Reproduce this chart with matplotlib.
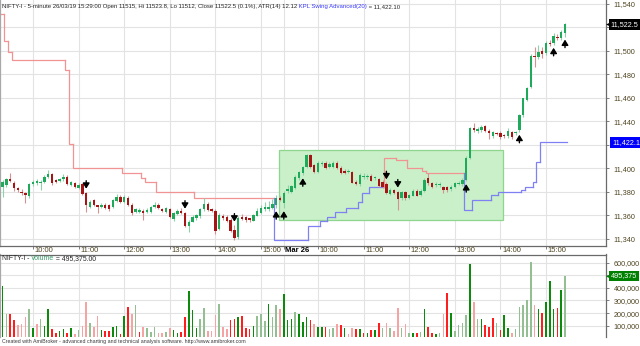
import matplotlib
matplotlib.use('Agg')
import numpy as np
import matplotlib.pyplot as plt
import matplotlib.transforms as mtransforms
from matplotlib import font_manager
from matplotlib.patches import Rectangle

# ---------------- data ----------------
symbol = 'NIFTY-I'
interval = '5-minute'
last_stamp = '26/03/19 15:29:00'
atr_value = 12.12
indicator_name = 'KPL Swing Advanced(20)'
days = ['Mar 25', 'Mar 26']
bars_per_day = 75
session_start = (9, 15)

opens = [11390, 11384.3, 11385.7, 11390.5, 11387.7, 11382.9, 11380, 11378.6, 11376.3, 11386.3,
 11387.1, 11387.1, 11388.5, 11392.8, 11394.8, 11390, 11389.1, 11390.5, 11392.8, 11385.7,
 11387.1, 11382.9, 11386.3, 11379.2, 11367.3, 11373, 11368.7, 11367.3, 11368.7, 11368.7,
 11367.3, 11372.4, 11375.8, 11371, 11374.9, 11368.7, 11363, 11363, 11363.6, 11363,
 11363, 11366.7, 11368.7, 11365, 11363, 11365, 11356.5, 11361, 11363.6, 11362.2,
 11350.8, 11354.5, 11357.3, 11359.3, 11365, 11369.3, 11365.3, 11363.9, 11348, 11359.3,
 11358.8, 11355.9, 11347.4, 11341.2, 11358.8, 11358.2, 11357.3, 11355.4, 11359.6, 11361.6,
 11365, 11365, 11365.9, 11368.7, 11374.4, 11370.1, 11380.6, 11380, 11382.9, 11391.4,
 11395.7, 11401.3, 11411.3, 11402.7, 11397.1, 11403.3, 11404.7, 11401.3, 11401.3, 11404.7,
 11400.5, 11397.6, 11396.5, 11397.1, 11388.6, 11386.3, 11392.5, 11392.2, 11393.4, 11391.4,
 11390.8, 11388.6, 11386.6, 11378, 11381.5, 11379.5, 11374.4, 11379.5, 11375, 11376.6,
 11380.6, 11377.2, 11380.6, 11391.4, 11387.1, 11385.4, 11385.6, 11384.2, 11384.2, 11382,
 11384.2, 11386.5, 11386.5, 11389.9, 11408.4, 11433.9, 11431.9, 11432.5, 11435.9, 11431.9,
 11427.4, 11430.2, 11430.2, 11428.2, 11427.4, 11431, 11429.6, 11432.5, 11445.2, 11458,
 11468.8, 11495.5, 11494.9, 11500, 11497.7, 11506.8, 11506.2, 11511.9, 11510.5, 11515]

highs = [11392, 11390, 11392, 11395.6, 11389, 11384, 11382, 11380, 11387, 11390,
 11391, 11390, 11394, 11398.5, 11396, 11391, 11392, 11394.8, 11394, 11389,
 11388, 11387, 11387, 11380, 11373, 11374, 11369, 11370, 11370, 11369.5,
 11374, 11378, 11377, 11377, 11376, 11370, 11366, 11366, 11365, 11366,
 11368, 11371.5, 11370, 11366, 11367, 11366, 11363, 11365, 11366, 11363,
 11356, 11360, 11361, 11366, 11374.4, 11371, 11366, 11365, 11362, 11361,
 11360, 11358, 11352, 11359, 11361, 11359, 11358, 11361, 11366, 11369,
 11371, 11372, 11374, 11377, 11376, 11381, 11386, 11386, 11394, 11398,
 11402, 11412, 11412, 11404, 11406, 11406, 11406, 11405, 11406, 11406,
 11402, 11399, 11399, 11398, 11390, 11396, 11396, 11395, 11395, 11393,
 11392, 11390, 11388, 11383, 11382, 11381, 11381, 11381, 11378, 11382,
 11382, 11382, 11392, 11396, 11388, 11388, 11388, 11385, 11385, 11386,
 11388, 11389, 11392, 11410, 11435, 11438.1, 11435, 11437, 11437, 11433,
 11432, 11431, 11432, 11429, 11434, 11432, 11432, 11446, 11460, 11469,
 11497, 11503, 11505, 11503, 11508, 11509, 11515, 11514, 11517.6, 11523.8]

lows = [11384, 11375.8, 11384, 11388, 11381, 11380, 11377, 11370.5, 11375, 11385,
 11386, 11381.5, 11387, 11392, 11386, 11387, 11388, 11389, 11386, 11385,
 11383, 11382, 11377, 11363, 11366, 11368, 11361.6, 11366, 11365, 11364,
 11366, 11371, 11370, 11370, 11368, 11360, 11362, 11362, 11355.9, 11362,
 11362, 11366, 11365, 11363, 11362, 11358, 11355, 11360, 11361, 11350,
 11346, 11354, 11356, 11358, 11364, 11364, 11363, 11344, 11347, 11356,
 11354, 11346, 11338.5, 11340, 11356, 11354, 11354, 11355, 11359, 11361,
 11364, 11364, 11365, 11366, 11372, 11366, 11379, 11379, 11382, 11390,
 11394, 11400, 11400, 11396, 11396, 11402, 11399, 11400, 11400, 11399,
 11395, 11395, 11396, 11387, 11386, 11385, 11391, 11391, 11389, 11390,
 11384, 11383, 11378, 11377, 11378, 11364.4, 11373, 11373, 11374, 11376,
 11376, 11376, 11380, 11386, 11383, 11384, 11384, 11379, 11380, 11381,
 11383, 11386, 11385, 11389, 11408, 11431, 11430, 11431, 11431, 11424.5,
 11426, 11428, 11425, 11426, 11426, 11425, 11428, 11431, 11444, 11457,
 11468, 11485.8, 11493, 11494, 11496, 11504, 11505, 11509, 11509, 11512]

closes = [11387, 11388.5, 11390.8, 11389.4, 11382.9, 11381.5, 11378.6, 11377.2, 11386.3, 11388.5,
 11389.4, 11388.5, 11392.8, 11394.8, 11387.1, 11388, 11390.8, 11392.2, 11386.6, 11388,
 11383.7, 11385.7, 11377.8, 11368.7, 11371.5, 11368.7, 11367.3, 11368.7, 11366.4, 11365,
 11373, 11375.8, 11371, 11375.8, 11368.7, 11362.2, 11365, 11364.4, 11362.2, 11364.4,
 11366.7, 11368.7, 11365.9, 11363.6, 11365.9, 11358.8, 11361.6, 11363.6, 11362.2, 11350.8,
 11354.5, 11358.8, 11360.2, 11365, 11369.3, 11364.4, 11363.6, 11346.6, 11360.2, 11357.3,
 11355.4, 11346.8, 11340.3, 11357.3, 11356.8, 11355.9, 11355.9, 11360.2, 11363.9, 11365.9,
 11366.7, 11367.3, 11369.3, 11374.9, 11373, 11378.6, 11382, 11384.9, 11392.8, 11397.1,
 11401.3, 11411.3, 11401.3, 11397.1, 11404.7, 11404.7, 11400.5, 11403.3, 11404.7, 11399.9,
 11395.7, 11395.7, 11397.6, 11387.7, 11386.9, 11394.2, 11393.4, 11393.4, 11389.4, 11392.2,
 11385.2, 11384.3, 11378.6, 11381.5, 11379.2, 11373.8, 11380, 11374.4, 11377.2, 11380.6,
 11376.6, 11380.6, 11390, 11387.1, 11384.3, 11386.5, 11386.5, 11381.4, 11381.4, 11384.2,
 11387.1, 11387.6, 11389.9, 11408.4, 11433.9, 11432.5, 11433, 11435.3, 11431.9, 11430.2,
 11431, 11428.8, 11426.8, 11427.4, 11431.9, 11426.8, 11431, 11445.2, 11459.4, 11467.9,
 11495.5, 11494.3, 11499.1, 11497.2, 11506.2, 11505.4, 11512.5, 11510.5, 11516.2, 11522.5]

volumes = [300000, 417000, 193000, 193000, 145000, 106000, 114000, 172000, 233000, 79000,
 114000, 153000, 100000, 230000, 71000, 45000, 58000, 71000, 40000, 79000,
 34000, 66000, 97000, 291000, 119000, 92000, 177000, 66000, 60000, 60000,
 87000, 97000, 34000, 177000, 251000, 193000, 262000, 48000, 87000, 79000,
 53000, 87000, 45000, 45000, 48000, 85000, 66000, 40000, 53000, 167000,
 375000, 225000, 79000, 153000, 238000, 60000, 60000, 185000, 272000, 87000,
 74000, 145000, 153000, 167000, 175000, 79000, 71000, 97000, 177000, 193000,
 140000, 272000, 172000, 264000, 233000, 351000, 145000, 150000, 209000, 196000,
 132000, 172000, 145000, 111000, 92000, 87000, 87000, 71000, 79000, 114000,
 106000, 79000, 34000, 79000, 71000, 71000, 40000, 45000, 66000, 66000,
 119000, 79000, 119000, 79000, 60000, 241000, 79000, 114000, 45000, 45000,
 40000, 50000, 233000, 87000, 45000, 34000, 45000, 196000, 359000, 201000,
 60000, 106000, 119000, 185000, 590000, 291000, 153000, 153000, 106000, 87000,
 159000, 124000, 66000, 185000, 79000, 45000, 71000, 251000, 264000, 301000,
 603000, 262000, 233000, 204000, 291000, 457000, 233000, 243000, 383000, 495375]

# volume shade per bar: G dark green, g light green, R red, r light red
vol_shade = ("RGgRRrrrgG" "rgGGRRGGRG" "rgrrgrrGRR" "GGRGRrgRrg" "ggrrgrGGRR"
             "GGGggrrrgr" "rRRGRRRGgg" "gGggrGGGgG" "GGRrGGRggr" "RGrrRGRGRG"
             "RgrgrrgrgG" "RgGRRGgrRG" "ggggGrgGRR" "RgRGGrgggg" "grGRGGGRGg")

# swing stop line: bar where each level starts, level, side (R resistance / B support)
stop_start = [0, 2, 3, 4, 18, 19, 20, 33, 38, 39, 42, 52,
              73, 82, 85, 87, 89, 92, 95, 96, 98,
              102, 105, 108, 112, 113,
              123, 125, 130, 132, 138, 139, 141, 142, 143]
stop_value = [11531, 11508, 11499, 11492, 11484, 11421, 11400, 11396, 11392, 11388, 11380, 11374.4,
              11339, 11350.8, 11355, 11358.7, 11362.9, 11365.8, 11371.5, 11378.6, 11384.3,
              11408.4, 11407.4, 11400.6, 11397.9, 11395.7,
              11364.4, 11373, 11377.2, 11380, 11381.4, 11384.3, 11388.5, 11405, 11422.1]
stop_side = "RRRRRRRRRRRR" "BBBBBBBBB" "RRRRR" "BBBBBBBBB"

arrow_bars = [23, 49, 62, 73, 75, 80, 102, 105, 123, 137, 146, 149]
arrow_dirs = "DDDUUUDDUUUU"

zone_bars = (73.8, 132.8)
zone_prices = (11355.9, 11415.5)

price_ticks = list(range(11340, 11541, 20))
vol_ticks = list(range(100000, 600001, 100000))

# ---------------- style ----------------
names = {f.name for f in font_manager.fontManager.ttflist}
BASE = 'Liberation Sans' if 'Liberation Sans' in names else 'DejaVu Sans'
NARROW = 'Liberation Sans Narrow' if 'Liberation Sans Narrow' in names else BASE
plt.rcParams['font.family'] = BASE

AXTXT = '#4f4420'
GRID = '#e3e3e3'
AXLINE = '#6a6a6a'
LAB = 5.2

W, H = 640, 346
fig = plt.figure(figsize=(W / 100, H / 100), dpi=100)
fig.patch.set_facecolor('white')
PLOT_R = 606
MAIN_B = 246
VOL_T, VOL_B = 254.5, 337

ax = fig.add_axes([0, 1 - MAIN_B / H, PLOT_R / W, MAIN_B / H])
axv = fig.add_axes([0, 1 - VOL_B / H, PLOT_R / W, (VOL_B - VOL_T) / H])

n = len(closes)
idx = np.arange(n)
o = np.array(opens); c = np.array(closes); h = np.array(highs); l = np.array(lows)

XL = (0.316, 159.79)
ax.set_xlim(*XL)
ax.set_ylim(11333.8, 11543.15)
axv.set_xlim(*XL)
axv.set_ylim(10300, 665000)

# time ticks
tick_pos, tick_lab, tick_bold = [], [], []
for k in range(n):
    d, j = divmod(k, bars_per_day)
    mins = session_start[0] * 60 + session_start[1] + 5 * j
    if j == 0 and d > 0:
        tick_pos.append(k); tick_lab.append(days[d]); tick_bold.append(True)
    elif mins % 60 == 0:
        tick_pos.append(k); tick_lab.append('%d:00' % (mins // 60)); tick_bold.append(False)

for a in (ax, axv):
    a.set_facecolor('white')
    a.set_xticks(tick_pos)
    a.grid(True, color=GRID, lw=0.8)
    a.set_axisbelow(True)
    a.yaxis.tick_right()
    for s in a.spines.values():
        s.set_color(AXLINE); s.set_linewidth(0.9)
    a.spines['left'].set_color('#a8a8a8')
    a.tick_params(axis='y', direction='out', length=2.5, width=0.6, color=AXLINE,
                  labelsize=LAB, labelcolor=AXTXT, pad=3)

ax.spines['top'].set_visible(False)
axv.spines['bottom'].set_visible(False)
ax.tick_params(axis='x', direction='out', length=2.5, width=0.6, color=AXLINE, labelbottom=False)
axv.tick_params(axis='x', length=0, labelbottom=False)

hidden_p = {11520, 11420}
ax.set_yticks(price_ticks)
ax.set_yticklabels(['' if p in hidden_p else f'{p:,}' for p in price_ticks])
axv.set_yticks(vol_ticks)
axv.set_yticklabels(['' if v == 500000 else f'{v:,}' for v in vol_ticks])

for p, t, b in zip(tick_pos, tick_lab, tick_bold):
    ax.annotate(t, xy=(p, 0), xycoords=('data', 'axes fraction'), xytext=(1.2, -3.0),
                textcoords='offset points', ha='left', va='center', fontsize=LAB + 0.3,
                color='black' if b else AXTXT, fontweight='bold' if b else 'normal',
                annotation_clip=False)

# zone
ax.add_patch(Rectangle((zone_bars[0], zone_prices[0]), zone_bars[1] - zone_bars[0],
                       zone_prices[1] - zone_prices[0], fc='#c9f0c9', ec='#8ed58e', lw=0.9, zorder=1.5))

# stop line
side_col = {'R': '#f29393', 'B': '#8080f5'}
for k in range(len(stop_start)):
    x0 = stop_start[k] - 0.5
    x1 = (stop_start[k + 1] if k + 1 < len(stop_start) else n) - 0.5
    xs, ys = [x0, x1], [stop_value[k], stop_value[k]]
    if k > 0:
        xs = [x0] + xs; ys = [stop_value[k - 1]] + ys
    ax.plot(xs, ys, color=side_col[stop_side[k]], lw=0.9, zorder=2.5, solid_joinstyle='miter')

# candles
up = c >= o
body_col = np.where(up, '#1fa95a', '#a61515')
wick_col = np.where(up, '#8fd1a9', '#d69292')
ax.vlines(idx, l, h, colors=wick_col, lw=0.8, zorder=3)
ax.bar(idx, np.maximum(np.abs(c - o), 0.8), bottom=np.minimum(o, c), width=0.62,
       color=body_col, lw=0, zorder=4)

# arrows
ppx = (11543.15 - 11333.8) / MAIN_B
for b, dct in zip(arrow_bars, arrow_dirs):
    if dct == 'U':
        head = l[b] - 3 * ppx; tail = head - 8 * ppx
    else:
        head = h[b] + 3 * ppx; tail = head + 8 * ppx
    ax.annotate('', xy=(b, head), xytext=(b, tail),
                arrowprops=dict(arrowstyle='-|>,head_width=0.2,head_length=0.32',
                                color='black', lw=1.0, shrinkA=0, shrinkB=0), zorder=6)

# volume bars
shade_col = {'G': '#0b8a0b', 'g': '#93bf93', 'R': '#ff1e1e', 'r': '#f5a3a3'}
axv.bar(idx, volumes, width=0.42, color=[shade_col[s] for s in vol_shade], lw=0, zorder=3)

# value tags
def value_tag(a, val, text, fc, pointed, off_px):
    tr = mtransforms.blended_transform_factory(a.transAxes, a.transData)
    a.annotate(text, xy=(1, val), xycoords=tr, xytext=(off_px * 0.72, 0), textcoords='offset points',
               ha='left', va='center', fontsize=LAB, color='white',
               bbox=dict(boxstyle='square,pad=0.25', fc=fc, ec=fc, lw=0),
               annotation_clip=False, zorder=20)
    if pointed:
        tr2 = tr + mtransforms.ScaledTranslation(2.4 / 100, 0, fig.dpi_scale_trans)
        a.plot([1], [val], marker='<', ms=3.4, color=fc, mew=0, transform=tr2, clip_on=False, zorder=21)

value_tag(ax, closes[-1], f'{closes[-1]:,.1f}', 'black', True, 4.5)
value_tag(ax, stop_value[-1], f'{stop_value[-1]:,.1f}', '#0000ff', False, 6)
value_tag(axv, volumes[-1], f'{volumes[-1]:,}', '#008000', True, 5)

# header texts
fig.canvas.draw()
R = fig.canvas.get_renderer()

def seq_text(x_px, y_px, pieces, family, size, target_w):
    total = 0
    for s, col in pieces:
        t = fig.text(0, 0, s, fontsize=size, family=family)
        total += t.get_window_extent(R).width
        t.remove()
    size = size * target_w / total
    x = x_px
    for s, col in pieces:
        t = fig.text(x / W, 1 - y_px / H, s, fontsize=size, family=family, color=col,
                     ha='left', va='center')
        x += t.get_window_extent(R).width

pct = (closes[-1] - closes[-2]) / closes[-2] * 100
title = (f'{symbol} - {interval} {last_stamp} Open {opens[-1]:g}, Hi {highs[-1]:g}, '
         f'Lo {lows[-1]:g}, Close {closes[-1]:g} ({pct:.1f}%), ATR(14) {atr_value:.2f}')
DARK = '#262626'
seq_text(2, 6.5, [(title, DARK), (' ' + indicator_name, '#3a3aff'),
                  (f' = {stop_value[-1]:,.2f}', DARK)], NARROW, 6, 402)
seq_text(2, 258.5, [(f'{symbol} - ', DARK), ('Volume', '#3a9a68'),
                    (f' = {volumes[-1]:,.2f}', DARK)], NARROW, 6, 95)
seq_text(2, 341.5, [('Created with AmiBroker - advanced charting and technical analysis software. '
                     'http://www.amibroker.com', '#3a3a3a')], NARROW, 6, 246)

fig.savefig('out.png', dpi=100, facecolor='white')
